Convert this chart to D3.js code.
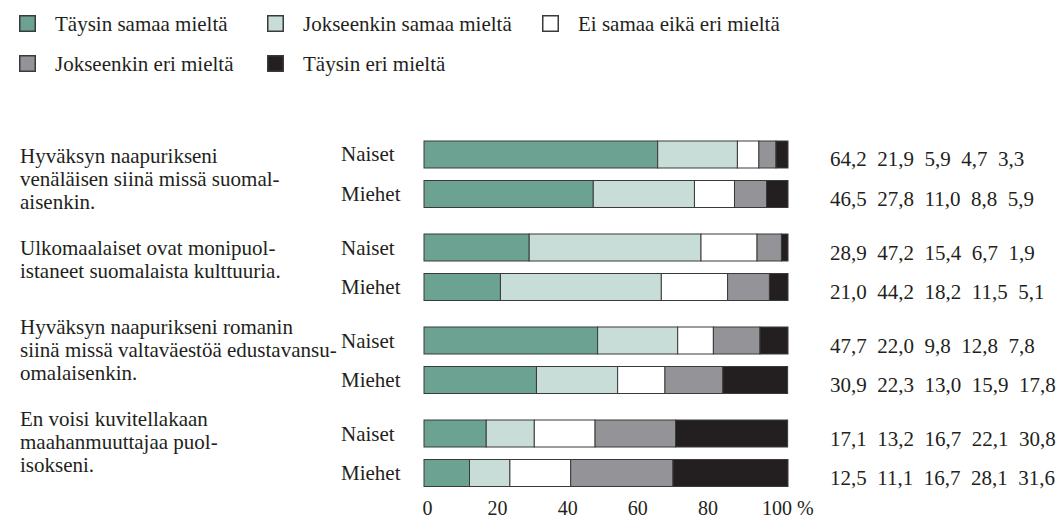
<!DOCTYPE html>
<html><head><meta charset="utf-8">
<script src="https://cdn.jsdelivr.net/npm/d3@7"></script>
<style>
body{margin:0;background:#fff}
svg text{font-family:"Liberation Serif","DejaVu Serif",serif;fill:#231f20}
</style>
</head><body>
<svg id="chart" width="1058" height="518"></svg>
<script>
// ---- data ----
const categories = ["Täysin samaa mieltä","Jokseenkin samaa mieltä","Ei samaa eikä eri mieltä","Jokseenkin eri mieltä","Täysin eri mieltä"];
const statements = [
  ["Hyväksyn naapurikseni","venäläisen siinä missä suomal-","aisenkin."],
  ["Ulkomaalaiset ovat monipuol-","istaneet suomalaista kulttuuria."],
  ["Hyväksyn naapurikseni romanin","siinä missä valtaväestöä edustavansu-","omalaisenkin."],
  ["En voisi kuvitellakaan","maahanmuuttajaa puol-","isokseni."]
];
const genders = ["Naiset","Miehet"];
const naisetValues = [
  [64.2,21.9,5.9,4.7,3.3],
  [28.9,47.2,15.4,6.7,1.9],
  [47.7,22.0,9.8,12.8,7.8],
  [17.1,13.2,16.7,22.1,30.8]
];
const miehetValues = [
  [46.5,27.8,11.0,8.8,5.9],
  [21.0,44.2,18.2,11.5,5.1],
  [30.9,22.3,13.0,15.9,17.8],
  [12.5,11.1,16.7,28.1,31.6]
];
const tickValues = [0,20,40,60,80,100];
const tickLabels = ["0","20","40","60","80","100 %"];

// ---- styles / layout ----
const colors = ["#6ca292","#c8ddd8","#ffffff","#949498","#231f20"];
const FONT = "'Liberation Serif', 'DejaVu Serif', serif";
const FS = 21;
const svg = d3.select("#chart");
const fi = d3.formatLocale({decimal:",",thousands:" ",grouping:[3],currency:["","€"]}).format(".1f");

const x = d3.scaleLinear().domain([0,100]).range([424,788]);
const xAxisScale = d3.scaleLinear().domain([0,100]).range([427.5,778]);
const yOuter = d3.scaleBand().domain(d3.range(statements.length)).range([141,486.5]).paddingInner(0.285);
const yInner = d3.scaleBand().domain(genders).range([0,yOuter.bandwidth()]).paddingInner(0.3165);
const color = d3.scaleOrdinal().domain(categories).range(colors);

function T(sel){ return sel.attr("font-family",FONT).attr("font-size",FS).attr("fill","#231f20"); }

// rows
const rows = [];
statements.forEach((s,i)=>{
  genders.forEach((g,j)=>{
    const vals = (j===0?naisetValues:miehetValues)[i];
    let acc=0;
    const segs = vals.map((v,k)=>{const s0=acc; acc+=v; return {cat:categories[k],x0:s0,x1:acc,v};});
    rows.push({si:i,g,vals,segs,y:yOuter(i)+yInner(g)});
  });
});

// legend
const legendCols = [19,267,542];
const legendRows = [15,55];
categories.forEach((c,i)=>{
  const col = i<3? i : i-3;
  const row = i<3? 0 : 1;
  const lx = legendCols[col], ly = legendRows[row];
  svg.append("rect").attr("x",lx+0.75).attr("y",ly+0.75).attr("width",15.5).attr("height",15.5)
    .attr("fill",color(c)).attr("stroke","#3a3a3a").attr("stroke-width",1.5);
  T(svg.append("text")).attr("x",lx+36).attr("y",ly+16).text(c);
});

// bars
const gRows = svg.append("g").selectAll("g").data(rows).join("g");
gRows.selectAll("rect").data(d=>d.segs.map(s=>({...s,y:d.y}))).join("rect")
  .attr("x",d=>x(d.x0)).attr("y",d=>d.y)
  .attr("width",d=>Math.max(0,x(Math.min(d.x1,100))-x(d.x0)))
  .attr("height",yInner.bandwidth())
  .attr("fill",d=>color(d.cat)).attr("stroke","#3a3a3a").attr("stroke-width",1);

// gender labels
T(gRows.append("text")).attr("x",341).attr("y",d=>d.y+yInner.bandwidth()/2+7).text(d=>d.g);

// value texts
T(gRows.append("text")).attr("x",830).attr("y",d=>d.y+yInner.bandwidth()/2+12)
  .style("white-space","pre").attr("xml:space","preserve")
  .text(d=>d.vals.map(fi).join("  "));

// statements
const firstLineShift = [22,21,7,6];
statements.forEach((lines,i)=>{
  const t = T(svg.append("text"));
  lines.forEach((ln,k)=>{
    t.append("tspan").attr("x",20).attr("y",yOuter(i)+firstLineShift[i]+k*23).text(ln);
  });
});

// axis labels
T(svg.append("g").selectAll("text").data(tickValues).join("text"))
  .attr("x",(d,i)=> i===tickValues.length-1 ? xAxisScale(d)-16 : xAxisScale(d))
  .attr("y",515).attr("font-size",FS-1)
  .attr("text-anchor",(d,i)=> i===tickValues.length-1 ? "start":"middle")
  .style("white-space","pre")
  .text((d,i)=>tickLabels[i]);
</script>
</body></html>
